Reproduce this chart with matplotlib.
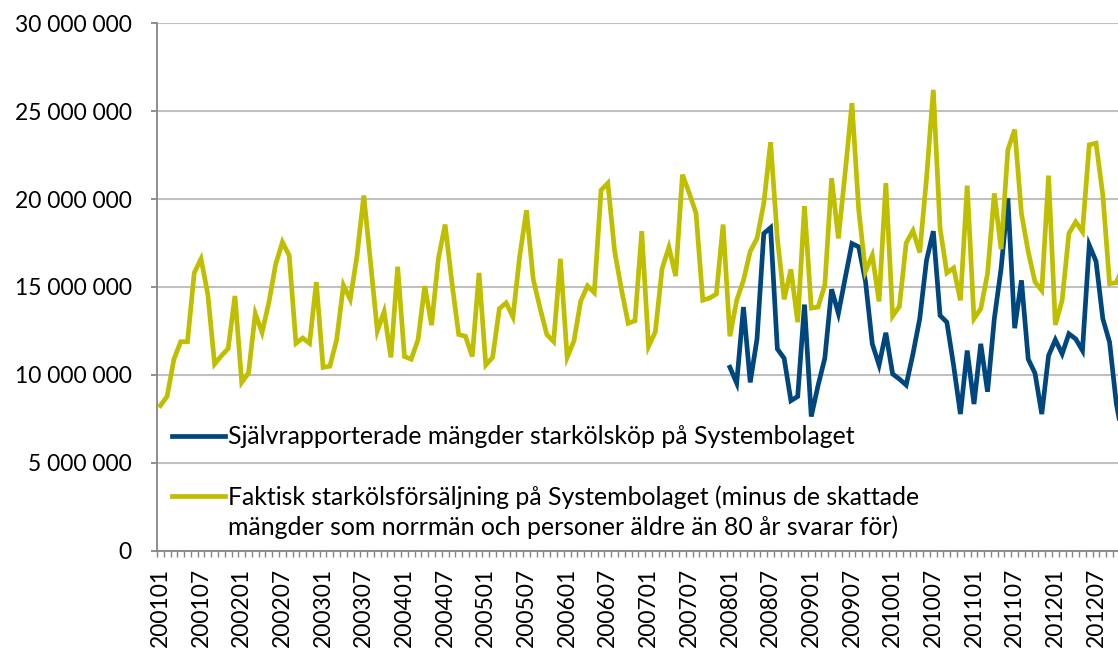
import numpy as np
import matplotlib.pyplot as plt
from matplotlib.lines import Line2D
from matplotlib.ticker import FuncFormatter

plt.rcParams['font.family'] = ['Lato', 'DejaVu Sans']

# kategorier: månader 200101-201212
months = [f"{y}{m:02d}" for y in range(2001, 2013) for m in range(1, 13)]

# miljoner liter per månad
faktisk = [
    8.26, 8.79, 10.9, 11.89, 11.89, 15.81, 16.6, 14.58, 10.62, 11.09, 11.5, 14.49,
    9.58, 10.11, 13.49, 12.42, 14.11, 16.28, 17.55, 16.79, 11.8, 12.1, 11.8, 15.28,
    10.43, 10.5, 12.0, 15.1, 14.3, 16.75, 20.2, 16.4, 12.5, 13.6, 11.0, 16.15,
    11.05, 10.9, 12.0, 15.05, 12.83, 16.6, 18.55, 15.25, 12.3, 12.2, 11.05, 15.8,
    10.57, 11.0, 13.77, 14.1, 13.3, 16.75, 19.36, 15.43, 13.8, 12.3, 11.9, 16.6,
    11.0, 11.94, 14.2, 15.06, 14.68, 20.5, 20.9, 17.04, 14.87, 12.94, 13.08, 18.17,
    11.62, 12.45, 16.04, 17.26, 15.62, 21.38, 20.34, 19.2, 14.25, 14.37, 14.6, 18.55,
    12.2, 14.24, 15.38, 17.03, 17.76, 19.75, 23.23, 17.76, 14.3, 16.0, 13.0, 19.6,
    13.8, 13.86, 15.1, 21.18, 17.76, 21.5, 25.45, 19.37, 15.9, 16.8, 14.18, 20.9,
    13.35, 13.9, 17.5, 18.2, 16.96, 21.18, 26.2, 18.33, 15.8, 16.08, 14.24, 20.76,
    13.2, 13.76, 15.76, 20.32, 17.15, 22.8, 23.94, 19.18, 17.0, 15.29, 14.8, 21.33,
    12.85, 14.24, 18.04, 18.7, 18.14, 23.08, 23.17, 20.23, 15.19, 15.25, 16.2, 17.0,
]

sjalvrapp_start = 84  # 200801
sjalvrapp = [
    10.44, 9.54, 13.86, 9.58, 12.05, 18.04, 18.37, 11.48, 10.95, 8.54, 8.78, 14.0,
    7.64, 9.4, 10.95, 14.87, 13.5, 15.5, 17.47, 17.28, 15.32, 11.77, 10.57, 12.4,
    10.06, 9.77, 9.43, 11.2, 13.2, 16.52, 18.17, 13.38, 13.0, 10.53, 7.78, 11.39,
    8.35, 11.77, 9.05, 13.2, 16.05, 20.04, 12.66, 15.38, 10.9, 10.1, 7.78, 11.1,
    12.0, 11.2, 12.34, 12.05, 11.39, 17.38, 16.46, 13.2, 11.86, 8.35, 6.3, 5.8,
]

lbl_sjalv = "Självrapporterade mängder starkölsköp på Systembolaget"
lbl_faktisk = ["Faktisk starkölsförsäljning på Systembolaget (minus de skattade",
               "mängder som norrmän och personer äldre än 80 år svarar för)"]

blue = "#00467f"
yellow = "#bfbf00"
gray = "#868686"

x = np.arange(len(months))
y_fakt = np.array(faktisk) * 1e6
x_sj = np.arange(sjalvrapp_start, sjalvrapp_start + len(sjalvrapp))
y_sj = np.array(sjalvrapp) * 1e6

fig = plt.figure(figsize=(11.18, 6.48), dpi=100)
# diagrammet är beskuret till höger, axeln fortsätter utanför bilden
ax = fig.add_axes([0.1404, 0.1497, 0.8733, 0.8148])

l_sj, = ax.plot(x_sj, y_sj, color=blue, lw=3.4, solid_joinstyle='miter', zorder=3)
l_fa, = ax.plot(x, y_fakt, color=yellow, lw=3.4, solid_joinstyle='miter', zorder=3)

ax.set_xlim(-0.5, len(months) - 0.5)
ax.set_ylim(0, 30e6)
ax.set_yticks(np.arange(0, 30e6 + 1, 5e6))
ax.yaxis.set_major_formatter(FuncFormatter(lambda v, p: f"{int(v):,}".replace(",", " ")))
ax.grid(axis='y', color='#c0c0c0', lw=1.5)
ax.set_axisbelow(True)

for s in ['top', 'right']:
    ax.spines[s].set_visible(False)
for s in ['left', 'bottom']:
    ax.spines[s].set_color(gray)
    ax.spines[s].set_linewidth(1.3)

ax.set_xticks(x[::6])
ax.set_xticklabels(months[::6], rotation=90)
ax.set_xticks(np.arange(-0.5, len(months), 1), minor=True)
ax.tick_params(axis='x', which='major', length=0, pad=12, labelsize=16.5)
ax.tick_params(axis='x', which='minor', length=4, width=1, color=gray)
ax.tick_params(axis='y', length=4, width=1.3, color=gray, pad=14, labelsize=16.5)

leg_kw = dict(loc='center left', bbox_transform=fig.transFigure, frameon=False,
              fontsize=17.9, handlelength=2.13, handletextpad=0.12,
              borderpad=0, borderaxespad=0)
leg1 = ax.legend([l_sj], [lbl_sjalv], bbox_to_anchor=(172 / 1118, 1 - 437 / 648), **leg_kw)
ax.add_artist(leg1)
tom = Line2D([], [], color='none')
ax.legend([l_fa, tom], lbl_faktisk, bbox_to_anchor=(172 / 1118, 1 - 512 / 648),
          labelspacing=0.26, **leg_kw)

fig.savefig("out.png", dpi=100)
